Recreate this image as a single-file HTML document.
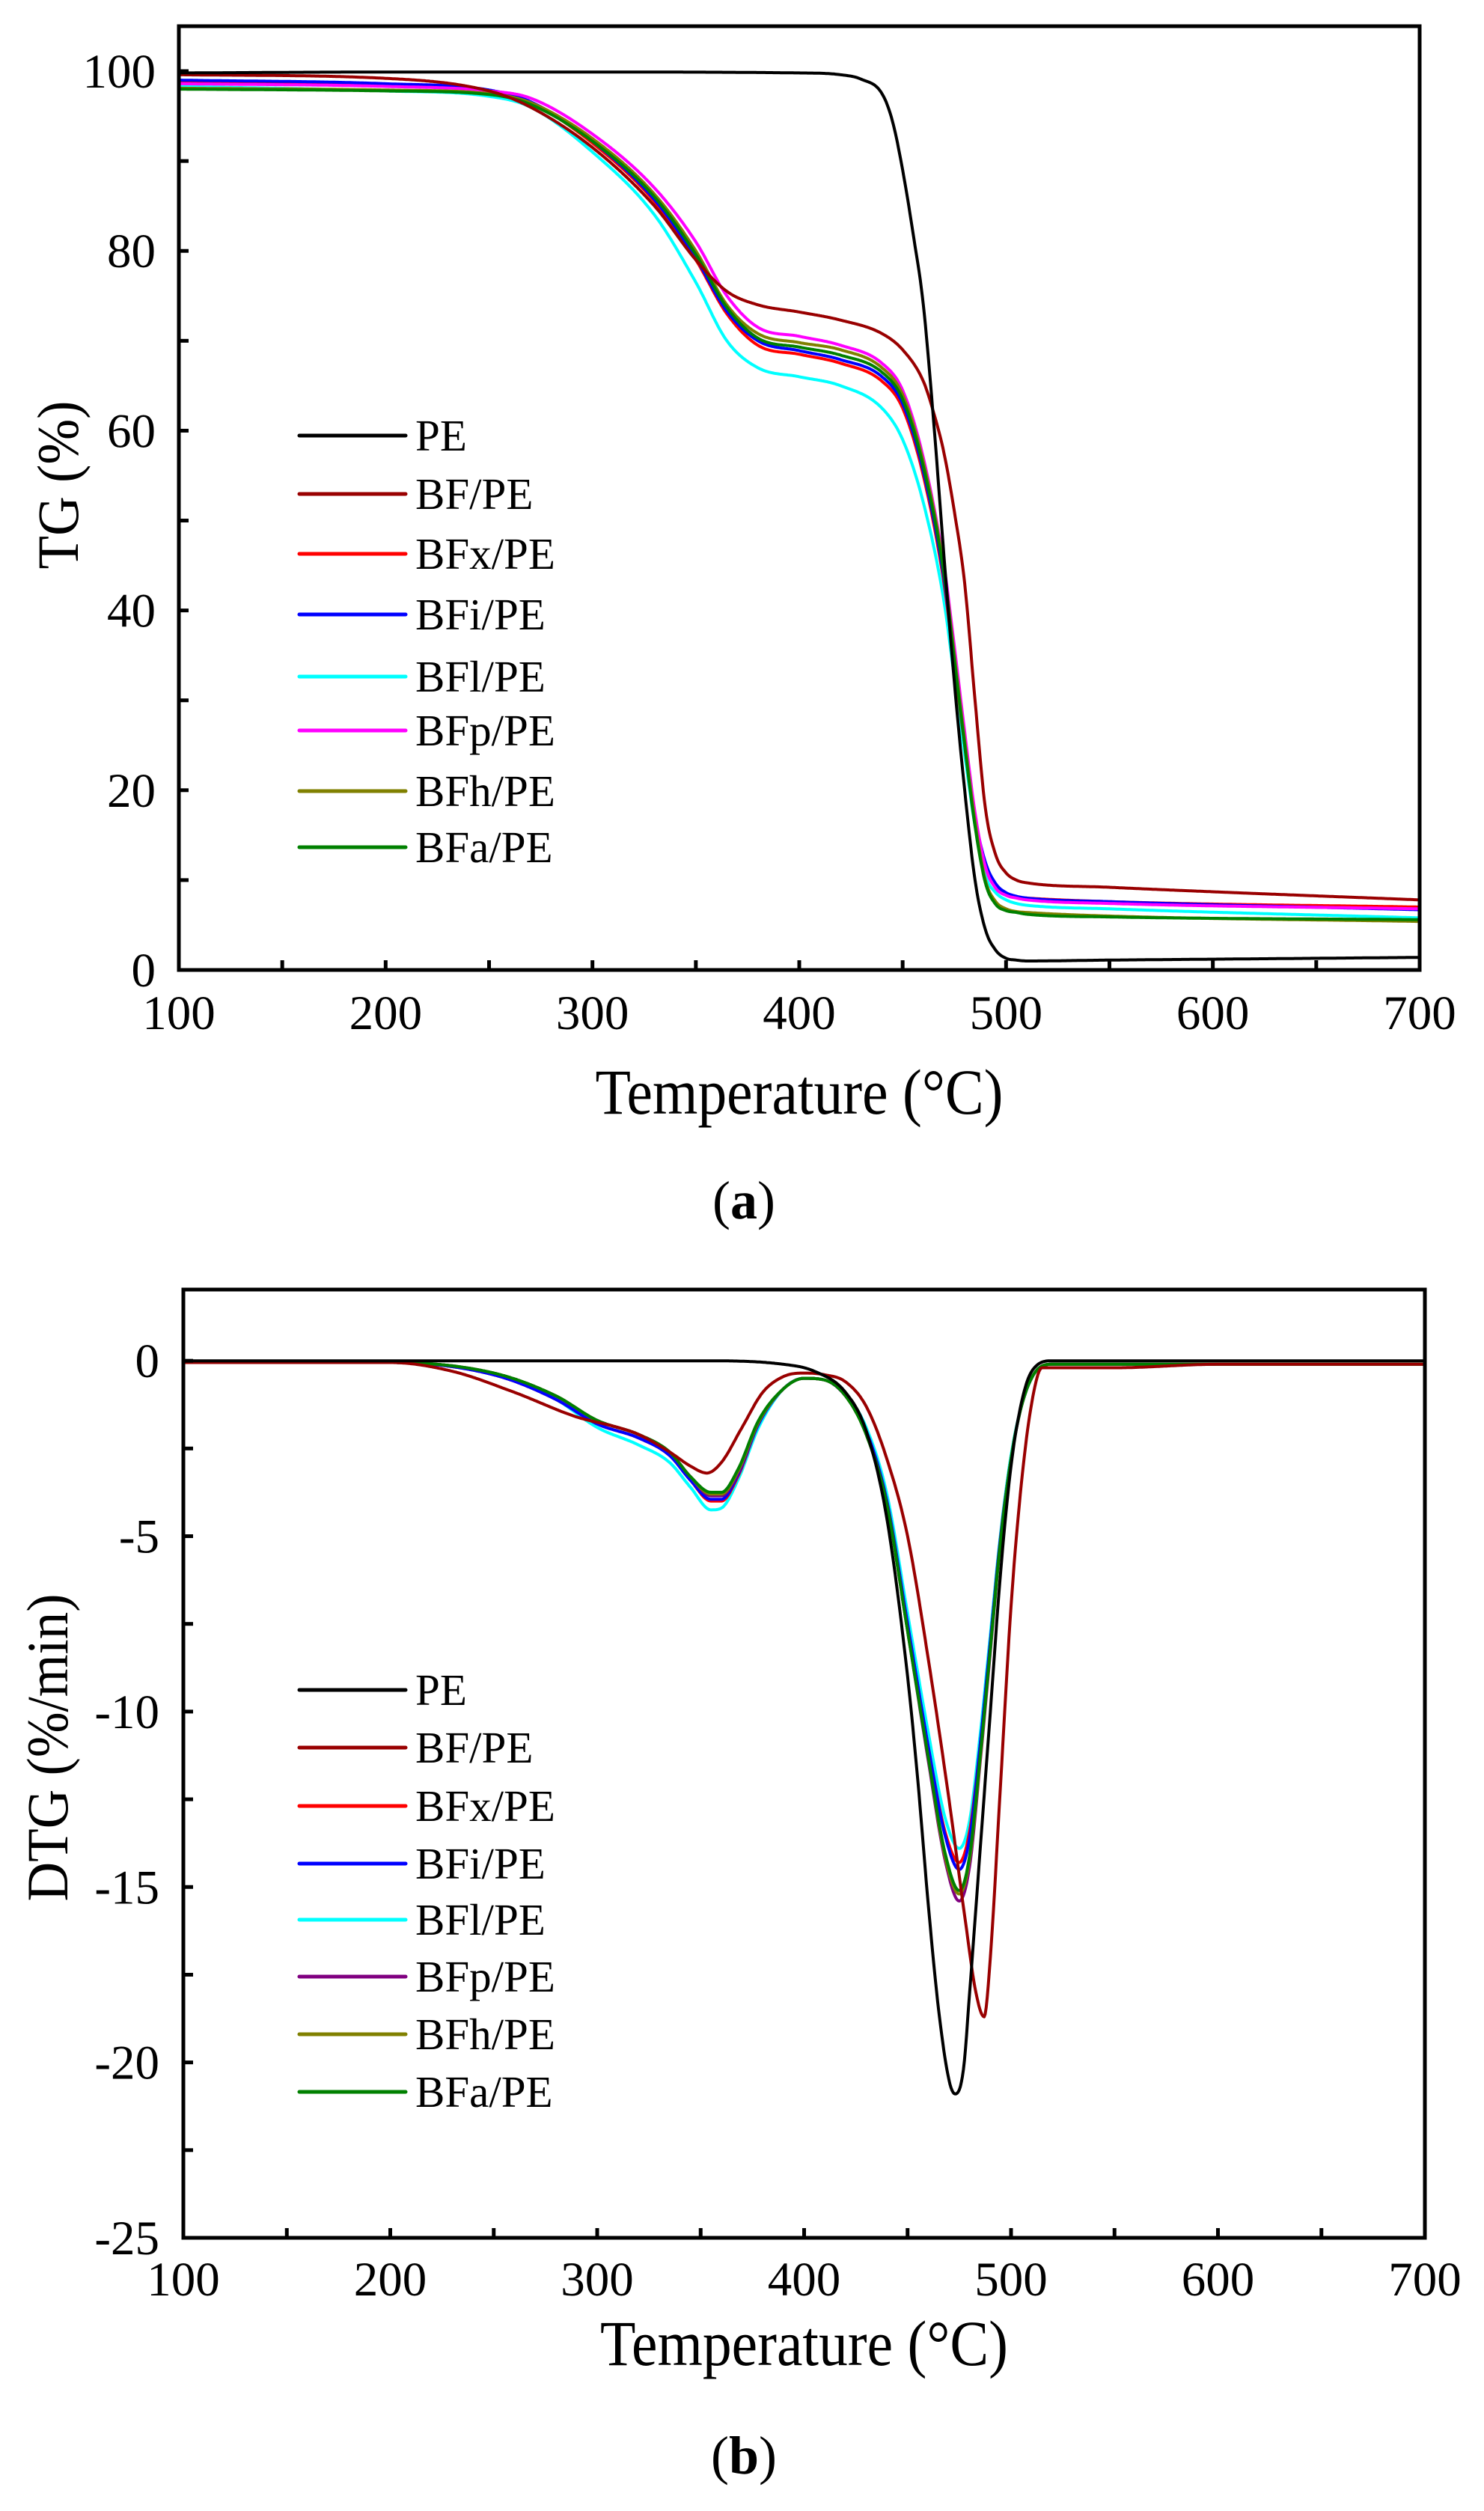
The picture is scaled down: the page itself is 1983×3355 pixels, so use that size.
<!DOCTYPE html>
<html><head><meta charset="utf-8"><style>
html,body{margin:0;padding:0;background:#fff;}
svg, svg text{font-family:"Liberation Serif","DejaVu Serif",serif;}
</style></head><body>
<svg id="fig" width="1983" height="3350" viewBox="0 0 1983 3350" xmlns="http://www.w3.org/2000/svg">
<rect width="1983" height="3350" fill="#fff"/>
<g id="chartA"></g>
<g id="chartB"></g>
</svg>
<script>
// ---------- Data: TG (a) ----------
const tgX = [100,200,250,270,300,330,350,365,380,400,420,440,450,460,470,475,480,485,490,495,500,505,510,550,700];
const tgPEx = [100,200,300,400,420,430,440,445,450,455,460,465,470,475,480,485,490,495,500,505,510,550,600,700];
const tgPE  = [99.8,99.9,99.9,99.8,99.6,99.1,97.5,94.5,89,82,74,61,46,32,20,10,4.5,2.2,1.3,1.1,1.0,1.1,1.2,1.4];
const tgBFxs = [100,200,250,270,300,330,350,365,380,400,420,440,450,460,465,470,475,480,485,490,495,500,505,510,550,600,700];
const tgBF  = [99.6,99.2,97.8,96,91.5,85,79,75.5,74,73.2,72.3,70.8,69,65.5,62,57.5,51,43,30,18,12.8,10.8,10,9.7,9.2,8.7,7.8];
const tgBFx = [98.8,98.5,97.8,96.5,92,85.5,79,73,69.5,68.5,67.5,65.5,62.5,55,43,34,25,16.5,11.5,9.3,8.5,8.1,8.0,7.6,7.0];
const tgBFi = [99.0,98.6,97.9,96.6,92.2,85.7,79.2,73.3,70,68.9,67.9,66,63,55.5,43.5,34.5,25.5,17,12,9.6,8.6,8.2,8.0,7.6,6.7];
const tgBFl = [98.3,97.8,97.2,96,91,84,76.5,70,67,66,65,62.5,59,52,41,32.5,24,16,10.5,8.6,7.8,7.4,7.2,6.8,5.8];
const tgBFp = [98.6,98.3,97.8,97,93,87,81,75,71.5,70.5,69.5,67.5,64.5,57,45,36,26.5,17.5,11.5,9.1,8.3,8.0,7.8,7.4,6.8];
const tgBFh = [98.1,97.9,97.5,96.5,92.5,86.3,80,74,70.8,69.8,69,67,64,56.5,44.5,35,25.5,16.5,10,7.6,6.8,6.5,6.4,6.0,5.4];
const tgBFa = [98.0,97.8,97.4,96.3,92.2,86,79.6,73.7,70.3,69.3,68.4,66.5,63.5,56,44,34.5,25,16,9.7,7.3,6.6,6.4,6.2,5.9,5.6];

// ---------- Data: DTG (b) ----------
const dX = [100,200,250,280,300,320,335,345,355,360,368,378,390,400,410,420,430,440,450,460,468,475,480,485,490,495,500,505,512,520,600,700];
const dPEx = [100,350,390,405,420,430,440,450,455,460,465,470,473,477,480,485,490,495,500,505,510,520,700];
const dPE  = [0,0,-0.1,-0.3,-0.9,-2,-4.5,-9,-12,-15.5,-18.5,-20.5,-20.9,-20.2,-18,-14,-10,-6,-3,-1.2,-0.3,0,0];
const dBFx_ = [100,200,230,260,290,310,320,335,345,353,360,370,380,390,400,410,420,430,440,450,460,470,478,483,487,490,495,500,505,510,515,520,550,600,700];
const dBF  = [-0.05,-0.05,-0.3,-0.9,-1.6,-1.9,-2.1,-2.6,-3.0,-3.2,-2.9,-1.9,-0.9,-0.45,-0.35,-0.4,-0.6,-1.3,-2.8,-5,-8.5,-12.5,-16,-18,-18.7,-17,-12,-7,-3.5,-1.2,-0.2,-0.2,-0.2,-0.1,-0.1];
const dBFx = [-0.05,-0.05,-0.4,-1.1,-1.8,-2.2,-2.7,-3.4,-4.0,-4.0,-3.3,-1.8,-0.8,-0.5,-0.55,-1.0,-2.0,-4,-7.5,-11,-13.4,-14.3,-13.4,-11,-8,-5,-2.8,-1.3,-0.3,-0.1,-0.1,-0.1];
const dBFi = [-0.05,-0.05,-0.4,-1.1,-1.8,-2.2,-2.7,-3.4,-3.95,-3.95,-3.25,-1.8,-0.8,-0.5,-0.55,-1.0,-2.0,-4,-7.5,-11,-13.5,-14.5,-13.6,-11,-8,-5,-2.8,-1.3,-0.3,-0.1,-0.1,-0.1];
const dBFl = [-0.05,-0.05,-0.4,-1.1,-1.9,-2.4,-2.9,-3.6,-4.25,-4.2,-3.4,-1.9,-0.8,-0.5,-0.55,-0.95,-1.9,-3.8,-7.2,-10.6,-13,-13.9,-13.1,-10.7,-7.8,-4.9,-2.7,-1.3,-0.3,-0.1,-0.1,-0.1];
const dBFp = [-0.05,-0.05,-0.35,-1.0,-1.7,-2.1,-2.6,-3.3,-3.85,-3.85,-3.2,-1.75,-0.8,-0.5,-0.55,-1.0,-2.1,-4.1,-7.7,-11.4,-14.2,-15.4,-14.4,-11.5,-8.3,-5.1,-2.8,-1.3,-0.3,-0.1,-0.1,-0.1];
const dBFh = [-0.05,-0.05,-0.35,-1.0,-1.7,-2.1,-2.6,-3.3,-3.8,-3.8,-3.15,-1.75,-0.8,-0.5,-0.55,-1.0,-2.1,-4.1,-7.7,-11.3,-14.1,-15.2,-14.2,-11.4,-8.2,-5.1,-2.8,-1.3,-0.3,-0.1,-0.1,-0.1];
const dBFa = [-0.05,-0.05,-0.35,-1.0,-1.7,-2.1,-2.6,-3.3,-3.75,-3.75,-3.1,-1.7,-0.8,-0.5,-0.55,-1.0,-2.1,-4.1,-7.7,-11.3,-14.0,-15.1,-14.1,-11.3,-8.2,-5.1,-2.8,-1.3,-0.3,-0.1,-0.1,-0.1];

const xTicks = [100,200,300,400,500,600,700];
const tgTicks = [0,20,40,60,80,100];
const dTicks = [0,-5,-10,-15,-20,-25];
const legendNames = ["PE","BF/PE","BFx/PE","BFi/PE","BFl/PE","BFp/PE","BFh/PE","BFa/PE"];

const NS = "http://www.w3.org/2000/svg";
function mk(parent, tag, attrs, txt){
  const e = document.createElementNS(NS, tag);
  for (const k in attrs) e.setAttribute(k, attrs[k]);
  if (tag === "text") e.style.fontFamily = '"Liberation Serif", "DejaVu Serif", serif';
  if (txt !== undefined) e.textContent = txt;
  parent.appendChild(e);
  return e;
}
function monotone(xs, ys){
  const n = xs.length, d = [], m = new Array(n);
  for (let i=0;i<n-1;i++) d.push((ys[i+1]-ys[i])/(xs[i+1]-xs[i]));
  m[0]=d[0]; m[n-1]=d[n-2];
  for (let i=1;i<n-1;i++) m[i] = (d[i-1]*d[i]<=0)?0:(d[i-1]+d[i])/2;
  for (let i=0;i<n-1;i++){
    if (d[i]===0){m[i]=0;m[i+1]=0;continue;}
    const a=m[i]/d[i], b=m[i+1]/d[i], s=a*a+b*b;
    if (s>9){const t=3/Math.sqrt(s); m[i]=t*a*d[i]; m[i+1]=t*b*d[i];}
  }
  return function(x){
    let i=0; while(i<n-2 && x>xs[i+1]) i++;
    const h=xs[i+1]-xs[i], t=(x-xs[i])/h, t2=t*t, t3=t2*t;
    return (2*t3-3*t2+1)*ys[i]+(t3-2*t2+t)*h*m[i]+(-2*t3+3*t2)*ys[i+1]+(t3-t2)*h*m[i+1];
  };
}
function curve(g, xs, ys, sx, sy, color, name){
  const f = monotone(xs, ys); let pts=[];
  for (let x=xs[0]; x<=xs[xs.length-1]; x+=0.5) pts.push(sx(x).toFixed(1)+","+sy(f(x)).toFixed(1));
  const p = mk(g,"polyline",{points:pts.join(" "),fill:"none",stroke:color,"stroke-width":"4","stroke-linejoin":"round"});
  
  
}

function chart(g, cfg){
  const {L,R,T,B,ymin,ymax,yTicks,yMinorStep,series,legendY,legendColors,xLabY,yLabR,titleY,yTitle,yTitleX,yTitleLen,panel,panelY} = cfg;
  const sx = x => L + (x-100)/(600)*(R-L);
  const sy = y => B - (y-ymin)/(ymax-ymin)*(B-T);
  series.forEach(s => curve(g, s.x, s.y, sx, sy, s.c, s.n));
  const fr = mk(g,"rect",{x:L,y:T,width:R-L,height:B-T,fill:"none",stroke:"#000","stroke-width":"5"});
   
  for (let v=100; v<=700; v+=50){
    mk(g,"line",{x1:sx(v),x2:sx(v),y1:B,y2:B-13,stroke:"#000","stroke-width":"5"});
  }
  xTicks.forEach(v=>{
    const t = mk(g,"text",{x:sx(v),y:xLabY,"font-size":"65","text-anchor":"middle"},String(v));
     
  });
  for (let v=ymin; v<=ymax+1e-9; v+=yMinorStep){
    mk(g,"line",{x1:L,x2:L+13,y1:sy(v),y2:sy(v),stroke:"#000","stroke-width":"5"});
  }
  yTicks.forEach(v=>{
    const t = mk(g,"text",{x:yLabR,y:sy(v)+22,"font-size":"65","text-anchor":"end"},String(v));
     
  });
  legendNames.forEach((nm,i)=>{
    const y = legendY[i];
    const ln = mk(g,"line",{x1:400,x2:542,y1:y,y2:y,stroke:legendColors[i],"stroke-width":"5","stroke-linecap":"round"});
     
    const t = mk(g,"text",{x:555,y:y+20,"font-size":"59"},nm);
     
  });
  const xt = mk(g,"text",{x:(L+R)/2,y:titleY,"font-size":"86","text-anchor":"middle",textLength:"545",lengthAdjust:"spacingAndGlyphs"},"Temperature (°C)");
   
  const yt = mk(g,"text",{x:0,y:0,"font-size":"78","text-anchor":"middle",textLength:yTitleLen,lengthAdjust:"spacingAndGlyphs",transform:`translate(${yTitleX},${cfg.yTitleCY}) rotate(-90)`},yTitle);
   
  const pt = mk(g,"text",{x:panel.x,y:panelY,"font-size":"72","text-anchor":"middle"});
   
  mk(pt,"tspan",{},"(");
  mk(pt,"tspan",{"font-weight":"bold"},panel.t);
  mk(pt,"tspan",{},")");
}

chart(document.getElementById("chartA"), {
  L:239,R:1897,T:35,B:1296,ymin:0,ymax:105,yTicks:tgTicks,yMinorStep:10,
  series:[
    {x:tgX,y:tgBFl,c:"#00ffff",n:"tg-bfl-line"},
    {x:tgX,y:tgBFx,c:"#ff0000",n:"tg-bfx-line"},
    {x:tgX,y:tgBFi,c:"#0000ff",n:"tg-bfi-line"},
    {x:tgX,y:tgBFp,c:"#ff00ff",n:"tg-bfp-line"},
    {x:tgX,y:tgBFh,c:"#808000",n:"tg-bfh-line"},
    {x:tgX,y:tgBFa,c:"#008000",n:"tg-bfa-line"},
    {x:tgBFxs,y:tgBF,c:"#990000",n:"tg-bf-line"},
    {x:tgPEx,y:tgPE,c:"#000000",n:"tg-pe-line"}],
  legendY:[582,660,740,821,904,976,1057,1132],
  legendColors:["#000","#990000","#ff0000","#0000ff","#00ffff","#ff00ff","#808000","#008000"],
  xLabY:1375,yLabR:208,titleY:1488,yTitle:"TG (%)",yTitleX:104,yTitleCY:648,yTitleLen:"225",
  panel:{x:994,t:"a"},panelY:1628
});
chart(document.getElementById("chartB"), {
  L:245,R:1904,T:1723,B:2990,ymin:-25,ymax:2.03,yTicks:dTicks,yMinorStep:2.5,
  series:[
    {x:dX,y:dBFl,c:"#00ffff",n:"dtg-bfl-line"},
    {x:dX,y:dBFx,c:"#ff0000",n:"dtg-bfx-line"},
    {x:dX,y:dBFi,c:"#0000ff",n:"dtg-bfi-line"},
    {x:dX,y:dBFp,c:"#800080",n:"dtg-bfp-line"},
    {x:dX,y:dBFh,c:"#808000",n:"dtg-bfh-line"},
    {x:dX,y:dBFa,c:"#008000",n:"dtg-bfa-line"},
    {x:dBFx_,y:dBF,c:"#990000",n:"dtg-bf-line"},
    {x:dPEx,y:dPE,c:"#000000",n:"dtg-pe-line"}],
  legendY:[2258,2335,2413,2490,2565,2641,2718,2795],
  legendColors:["#000","#990000","#ff0000","#0000ff","#00ffff","#800080","#808000","#008000"],
  xLabY:3067,yLabR:213,titleY:3160,yTitle:"DTG (%/min)",yTitleX:90,yTitleCY:2335,yTitleLen:"411",
  panel:{x:994,t:"b"},panelY:3305
});
</script>
</body></html>
